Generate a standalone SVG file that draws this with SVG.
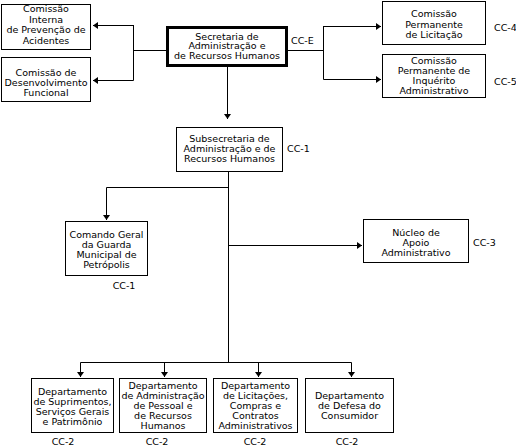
<svg xmlns="http://www.w3.org/2000/svg" width="516" height="446" viewBox="0 0 516 446">
<style>
text{font-family:"DejaVu Sans",Verdana,sans-serif;font-size:9.5px;fill:#000;}
.c{text-anchor:middle;}
.box{fill:#fff;stroke:#000;stroke-width:1;}
.thick{fill:#fff;stroke:#000;stroke-width:3;}
.ln{fill:none;stroke:#000;stroke-width:1;}
</style>
<defs>
<marker id="ah" viewBox="0 0 5 7" refX="5" refY="3.5" markerWidth="5" markerHeight="7" markerUnits="userSpaceOnUse" orient="auto">
<path d="M0,0 L5,3.5 L0,7 Z" fill="#000"/>
</marker>
</defs>
<rect width="516" height="446" fill="#fff"/>
<g id="connectors">
<path class="ln" d="M167,50.5 H133.5"/>
<path class="ln" d="M133.5,25 V80.5"/>
<path class="ln" d="M133.5,25.5 H93" marker-end="url(#ah)"/>
<path class="ln" d="M133.5,80.5 H93" marker-end="url(#ah)"/>
<path class="ln" d="M288,50.5 H323.5"/>
<path class="ln" d="M323.5,26 V79.5"/>
<path class="ln" d="M323.5,26.5 H381" marker-end="url(#ah)"/>
<path class="ln" d="M323.5,79.5 H381" marker-end="url(#ah)"/>
<path class="ln" d="M227.5,67 V119" marker-end="url(#ah)"/>
<path class="ln" d="M228.5,172 V362.5"/>
<path class="ln" d="M228.5,187.5 H106.5 V220" marker-end="url(#ah)"/>
<path class="ln" d="M228.5,245.5 H362" marker-end="url(#ah)"/>
<path class="ln" d="M80.5,362.5 H351.5"/>
<path class="ln" d="M80.5,362.5 V377" marker-end="url(#ah)"/>
<path class="ln" d="M164.5,362.5 V377" marker-end="url(#ah)"/>
<path class="ln" d="M258.5,362.5 V377" marker-end="url(#ah)"/>
<path class="ln" d="M351.5,362.5 V377" marker-end="url(#ah)"/>
</g>
<g id="cipa">
<rect class="box" x="1.5" y="4.5" width="89" height="45"/>
<text class="c"><tspan x="46" y="12">Comissão</tspan><tspan x="46" y="22.5">Interna</tspan><tspan x="46" y="33">de Prevenção de</tspan><tspan x="46" y="43.5">Acidentes</tspan></text>
</g>
<g id="cdf">
<rect class="box" x="1.5" y="57.5" width="89" height="44"/>
<text class="c"><tspan x="46" y="75.5">Comissão de</tspan><tspan x="46" y="85.5">Desenvolvimento</tspan><tspan x="46" y="95.5">Funcional</tspan></text>
</g>
<g id="secretaria">
<rect class="thick" x="167.5" y="27.5" width="119" height="38"/>
<text class="c"><tspan x="227" y="39.5">Secretaria de</tspan><tspan x="227" y="49">Administração e</tspan><tspan x="227" y="59">de Recursos Humanos</tspan></text>
<text x="291" y="43.5">CC-E</text>
</g>
<g id="cpl">
<rect class="box" x="382.5" y="1.5" width="103" height="43"/>
<text class="c"><tspan x="434" y="17">Comissão</tspan><tspan x="434" y="27.5">Permanente</tspan><tspan x="434" y="37.5">de Licitação</tspan></text>
<text x="494" y="30.5">CC-4</text>
</g>
<g id="cpia">
<rect class="box" x="382.5" y="54.5" width="103" height="43"/>
<text class="c"><tspan x="434" y="64">Comissão</tspan><tspan x="434" y="74">Permanente de</tspan><tspan x="434" y="84">Inquérito</tspan><tspan x="434" y="94">Administrativo</tspan></text>
<text x="494" y="84.5">CC-5</text>
</g>
<g id="subsecretaria">
<rect class="box" x="176.5" y="127.5" width="106" height="44"/>
<text class="c"><tspan x="229.5" y="141.5">Subsecretaria de</tspan><tspan x="229.5" y="151.5">Administração e de</tspan><tspan x="229.5" y="161.5">Recursos Humanos</tspan></text>
<text x="287" y="151.5">CC-1</text>
</g>
<g id="comando">
<rect class="box" x="65.5" y="221.5" width="82" height="54"/>
<text class="c"><tspan x="106.5" y="237.5">Comando Geral</tspan><tspan x="106.5" y="247.5">da Guarda</tspan><tspan x="106.5" y="257.5">Municipal de</tspan><tspan x="106.5" y="267.5">Petrópolis</tspan></text>
<text class="c" x="124" y="288.5">CC-1</text>
</g>
<g id="nucleo">
<rect class="box" x="363.5" y="219.5" width="105" height="43"/>
<text class="c"><tspan x="416" y="235.5">Núcleo de</tspan><tspan x="416" y="245.5">Apoio</tspan><tspan x="416" y="255.5">Administrativo</tspan></text>
<text x="473" y="245.5">CC-3</text>
</g>
<g id="dep-suprimentos">
<rect class="box" x="31.5" y="378.5" width="82" height="54"/>
<text class="c"><tspan x="72.5" y="395">Departamento</tspan><tspan x="72.5" y="405">de Suprimentos,</tspan><tspan x="72.5" y="415">Serviços Gerais</tspan><tspan x="72.5" y="425">e Patrimônio</tspan></text>
<text class="c" x="63" y="445">CC-2</text>
</g>
<g id="dep-pessoal">
<rect class="box" x="119.5" y="378.5" width="87" height="54"/>
<text class="c"><tspan x="163" y="388.5">Departamento</tspan><tspan x="163" y="398.5">de Administração</tspan><tspan x="163" y="408.5">de Pessoal e</tspan><tspan x="163" y="418.5">de Recursos</tspan><tspan x="163" y="428.5">Humanos</tspan></text>
<text class="c" x="157" y="445">CC-2</text>
</g>
<g id="dep-licitacoes">
<rect class="box" x="213.5" y="378.5" width="84" height="54"/>
<text class="c"><tspan x="255.5" y="388.5">Departamento</tspan><tspan x="255.5" y="398.5">de Licitações,</tspan><tspan x="255.5" y="408.5">Compras e</tspan><tspan x="255.5" y="418.5">Contratos</tspan><tspan x="255.5" y="428.5">Administrativos</tspan></text>
<text class="c" x="255" y="445">CC-2</text>
</g>
<g id="dep-consumidor">
<rect class="box" x="305.5" y="378.5" width="88" height="54"/>
<text class="c"><tspan x="349.5" y="398.5">Departamento</tspan><tspan x="349.5" y="408.5">de Defesa do</tspan><tspan x="349.5" y="418.5">Consumidor</tspan></text>
<text class="c" x="347" y="445">CC-2</text>
</g>
</svg>
